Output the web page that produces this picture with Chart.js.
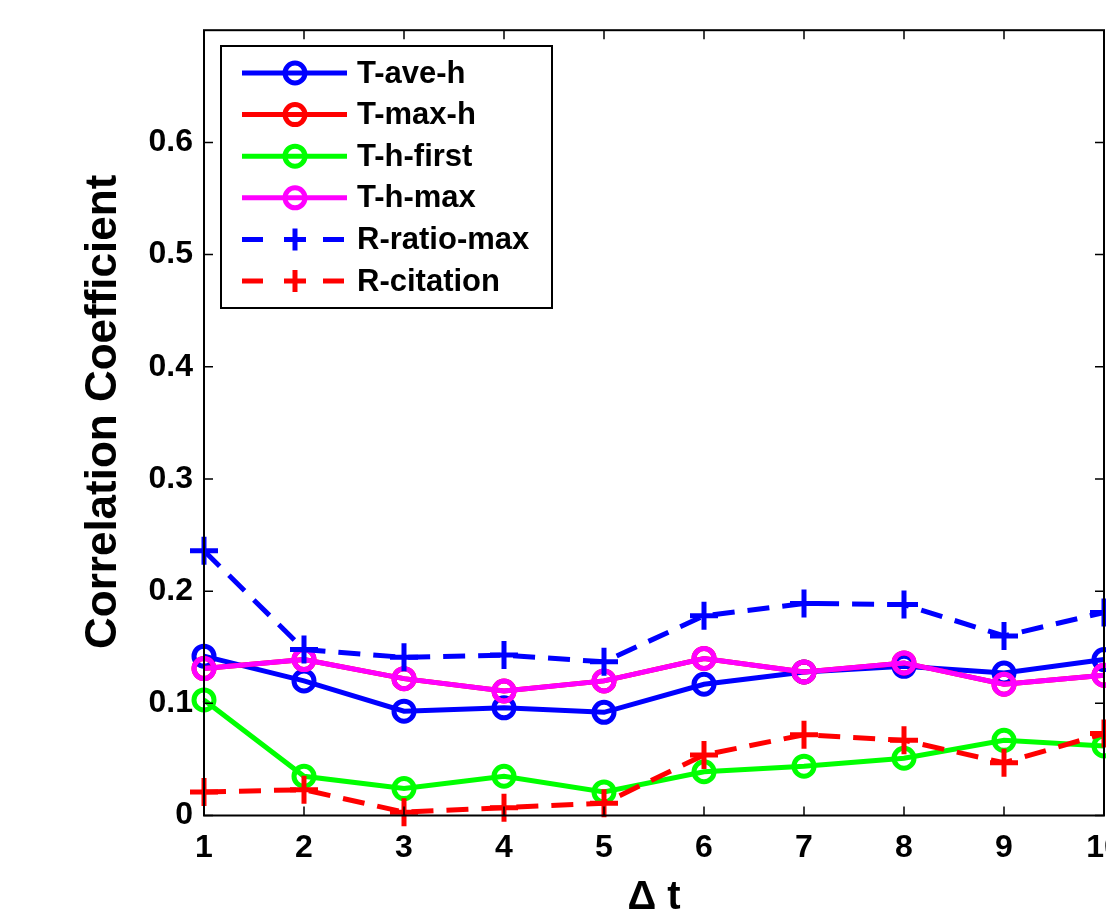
<!DOCTYPE html>
<html>
<head>
<meta charset="utf-8">
<script src="https://cdn.jsdelivr.net/npm/chart.js@4.4.1/dist/chart.umd.min.js"></script>
<style>
  html, body { margin: 0; padding: 0; background: #fff; overflow: hidden; }
  #wrap { position: absolute; left: 0; top: 0; width: 1200px; height: 915px; }
</style>
</head>
<body>
<div id="wrap"><canvas id="chart" width="1200" height="915"></canvas></div>
<script>
// x values (Δt) and the six series
const deltaT = [1, 2, 3, 4, 5, 6, 7, 8, 9, 10];
const tAveH = [0.142, 0.120, 0.093, 0.096, 0.092, 0.117, 0.128, 0.133, 0.127, 0.139];
const tMaxH = [0.131, 0.139, 0.122, 0.111, 0.120, 0.140, 0.128, 0.136, 0.117, 0.125];
const tHFirst = [0.103, 0.035, 0.024, 0.035, 0.021, 0.039, 0.044, 0.051, 0.067, 0.062];
const tHMax = [0.131, 0.139, 0.122, 0.111, 0.120, 0.140, 0.128, 0.136, 0.117, 0.125];
const rRatioMax = [0.236, 0.148, 0.141, 0.143, 0.137, 0.178, 0.189, 0.188, 0.160, 0.181];
const rCitation = [0.021, 0.023, 0.003, 0.007, 0.011, 0.054, 0.072, 0.067, 0.047, 0.073];
const yTicks = [0, 0.1, 0.2, 0.3, 0.4, 0.5, 0.6];

const FONT = '"Liberation Sans", Arial, Helvetica, sans-serif';

function series(label, values, color, dashed) {
    return {
        label,
        data: deltaT.map((x, i) => ({ x, y: values[i] })),
        borderColor: color,
        backgroundColor: color,
        borderWidth: 5,
        borderDash: dashed ? [22, 13] : [],
        pointStyle: dashed ? 'cross' : 'circle',
        pointRadius: dashed ? 14 : 10,
        pointBorderWidth: 5,
        pointBorderColor: color,
        pointBackgroundColor: 'rgba(0,0,0,0)',
        tension: 0,
        clip: false
    };
}

const datasets = [
    series('T-ave-h', tAveH, '#0000ff', false),
    series('T-max-h', tMaxH, '#ff0000', false),
    series('T-h-first', tHFirst, '#00ff00', false),
    series('T-h-max', tHMax, '#ff00ff', false),
    series('R-ratio-max', rRatioMax, '#0000ff', true),
    series('R-citation', rCitation, '#ff0000', true)
];
// matlab draws later lines on top
datasets.forEach((d, i) => { d.order = datasets.length - i; });

// box around the axes with inward ticks on all four sides
const framePlugin = {
    id: 'frame',
    afterDatasetsDraw(chart) {
        const { ctx, chartArea: a, scales } = chart;
        const len = 9;
        ctx.save();
        ctx.strokeStyle = '#000';
        ctx.lineWidth = 1.5;
        ctx.beginPath();
        scales.x.ticks.forEach(t => {
            const px = scales.x.getPixelForValue(t.value);
            ctx.moveTo(px, a.bottom); ctx.lineTo(px, a.bottom - len);
            ctx.moveTo(px, a.top); ctx.lineTo(px, a.top + len);
        });
        scales.y.ticks.forEach(t => {
            const py = scales.y.getPixelForValue(t.value);
            ctx.moveTo(a.left, py); ctx.lineTo(a.left + len, py);
            ctx.moveTo(a.right, py); ctx.lineTo(a.right - len, py);
        });
        ctx.stroke();
        ctx.lineWidth = 2;
        ctx.strokeRect(a.left, a.top, a.right - a.left, a.bottom - a.top);
        ctx.restore();
    }
};

// matlab style legend box in the upper left corner
const legendPlugin = {
    id: 'boxLegend',
    afterDraw(chart) {
        const { ctx } = chart;
        const box = { x: 221, y: 46, w: 331, h: 262 };
        const rowH = 41.6;
        ctx.save();
        ctx.fillStyle = '#fff';
        ctx.fillRect(box.x, box.y, box.w, box.h);
        ctx.strokeStyle = '#000';
        ctx.lineWidth = 2;
        ctx.strokeRect(box.x, box.y, box.w, box.h);
        chart.data.datasets.forEach((ds, i) => {
            const y = box.y + 27 + i * rowH;
            const dashed = ds.borderDash.length > 0;
            ctx.strokeStyle = ds.borderColor;
            ctx.lineWidth = ds.borderWidth;
            ctx.setLineDash(dashed ? [21, 60] : []);
            ctx.beginPath();
            ctx.moveTo(242, y);
            ctx.lineTo(347, y);
            ctx.stroke();
            ctx.setLineDash([]);
            ctx.fillStyle = 'rgba(0,0,0,0)';
            ctx.lineWidth = ds.pointBorderWidth;
            Chart.helpers.drawPoint(ctx, {
                pointStyle: ds.pointStyle, radius: dashed ? 11 : 10,
                rotation: 0, borderWidth: ds.pointBorderWidth
            }, 295, y);
            ctx.fillStyle = '#000';
            ctx.font = 'bold 31px ' + FONT;
            ctx.textBaseline = 'middle';
            ctx.textAlign = 'left';
            ctx.fillText(ds.label, 357, y + 1);
        });
        ctx.restore();
    }
};

new Chart(document.getElementById('chart'), {
    type: 'line',
    data: { datasets },
    options: {
        responsive: false,
        animation: false,
        layout: { autoPadding: false, padding: { left: 0, right: 96, top: 30, bottom: 0 } },
        plugins: { legend: { display: false }, tooltip: { enabled: false } },
        scales: {
            x: {
                type: 'linear',
                min: 1,
                max: 10,
                afterFit(scale) { scale.height = 99.5; },
                grid: { display: false, drawTicks: false },
                border: { display: false },
                ticks: {
                    stepSize: 1, autoSkip: false, maxRotation: 0, padding: 13,
                    color: '#000', font: { family: FONT, size: 32, weight: 'bold' }
                },
                title: {
                    display: true, text: 'Δ t', color: '#000',
                    font: { family: FONT, size: 40, weight: 'bold', lineHeight: 0.85 },
                    padding: { top: 0, bottom: 0 }
                }
            },
            y: {
                min: 0,
                max: 0.7,
                afterFit(scale) { scale.width = 204; },
                afterBuildTicks(scale) { scale.ticks = yTicks.map(v => ({ value: v })); },
                grid: { display: false, drawTicks: false },
                border: { display: false },
                ticks: {
                    padding: 11, color: '#000',
                    font: { family: FONT, size: 32, weight: 'bold' },
                    callback: v => (v === 0 ? '0' : v.toFixed(1))
                },
                title: {
                    display: true, text: '\u2002Correlation Coefficient', color: '#000',
                    font: { family: FONT, size: 44, weight: 'bold' },
                    padding: { top: 77, bottom: 0 }
                }
            }
        }
    },
    plugins: [framePlugin, legendPlugin]
});
</script>
</body>
</html>
